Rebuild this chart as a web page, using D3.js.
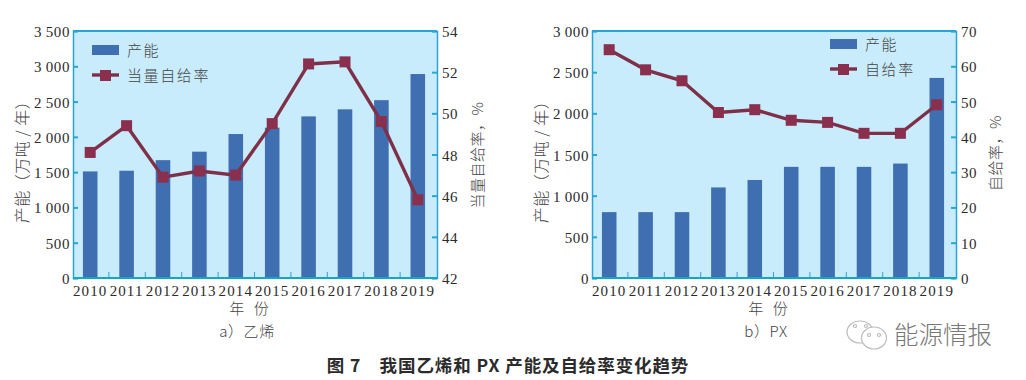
<!DOCTYPE html>
<html lang="en">
<head>
    <meta charset="UTF-8">
    <title>图 7 我国乙烯和 PX 产能及自给率变化趋势</title>
    <script src="https://d3js.org/d3.v7.min.js"></script>
    <style>
        body { margin: 0; background: #fff; }
        svg { display: block; }
        text { font-family: "Liberation Serif", "Noto Sans CJK SC", serif; fill: #2b2b2b; }
        .cjk { font-family: "Noto Sans CJK SC", sans-serif; font-weight: 300; fill: #444; }
    </style>
</head>
<body>
    <svg id="chart" width="1026" height="380"></svg>
    <script>
        const years = [2010, 2011, 2012, 2013, 2014, 2015, 2016, 2017, 2018, 2019];

        const ethyleneCapacity = [1510, 1520, 1670, 1790, 2040, 2130, 2290, 2390, 2520, 2890];
        const ethyleneRate = [48.1, 49.4, 46.9, 47.2, 47.0, 49.5, 52.4, 52.5, 49.6, 45.8];
        const ethyleneLeftTicks = [0, 500, 1000, 1500, 2000, 2500, 3000, 3500];
        const ethyleneRightTicks = [42, 44, 46, 48, 50, 52, 54];

        const pxCapacity = [800, 800, 800, 1100, 1190, 1350, 1350, 1350, 1390, 2430];
        const pxRate = [64.7, 59, 55.9, 46.9, 47.7, 44.7, 44.1, 41, 41, 49.1];
        const pxLeftTicks = [0, 500, 1000, 1500, 2000, 2500, 3000];
        const pxRightTicks = [0, 10, 20, 30, 40, 50, 60, 70];

        const axisColor = "#27a5d6";
        const plotColor = "#c9ecfd";
        const barColor = "#3f6fb0";
        const lineColor = "#7f3049";
        const markerColor = "#8b2f4e";

        const svg = d3.select("#chart");
        const plotTop = 31, plotBottom = 278;

        // thousands with a space, like the print: 3 500
        const spaced = d => d >= 1000 ? Math.floor(d / 1000) + "\u2009" + d3.format("03d")(d % 1000) : String(d);

        function drawPanel(p) {
            const g = svg.append("g");
            const x = d3.scaleBand().domain(years).range([p.left - 1, p.right - 1]).paddingInner(0.6).paddingOuter(0.3);
            const step = (p.right - p.left) / 10;
            const y = d3.scaleLinear().domain([0, p.leftTicks[p.leftTicks.length - 1]]).range([plotBottom, plotTop]);
            const y2 = d3.scaleLinear().domain([p.rightTicks[0], p.rightTicks[p.rightTicks.length - 1]]).range([plotBottom, plotTop]);

            g.append("rect")
                .attr("x", p.left).attr("y", plotTop)
                .attr("width", p.right - p.left).attr("height", plotBottom - plotTop)
                .attr("fill", plotColor);

            g.selectAll(".bar")
                .data(p.capacity)
                .enter()
                .append("rect")
                .attr("class", "bar")
                .attr("x", (d, i) => x(years[i]))
                .attr("y", d => y(d))
                .attr("width", x.bandwidth())
                .attr("height", d => plotBottom - y(d))
                .attr("fill", barColor);

            // axes
            const leftAxis = g.append("g")
                .attr("transform", `translate(${p.left},0)`)
                .call(d3.axisRight(y).tickValues(p.leftTicks).tickSize(5).tickFormat(""));
            const rightAxis = g.append("g")
                .attr("transform", `translate(${p.right},0)`)
                .call(d3.axisLeft(y2).tickValues(p.rightTicks).tickSize(5).tickFormat(""));
            [leftAxis, rightAxis].forEach(a => {
                a.selectAll("line").attr("stroke", axisColor).attr("stroke-width", 2);
                a.select(".domain").attr("stroke", axisColor).attr("stroke-width", 1.5);
            });

            g.append("line").attr("x1", p.left).attr("x2", p.right).attr("y1", plotTop).attr("y2", plotTop)
                .attr("stroke", axisColor).attr("stroke-width", 2);

            const xAxis = g.append("g")
                .attr("transform", `translate(0,${plotBottom})`)
                .call(d3.axisTop(d3.scaleLinear().domain([0, 10]).range([p.left - 1, p.left - 1 + step * 10]))
                    .tickValues(d3.range(1, 10)).tickSize(6).tickFormat(""));
            xAxis.selectAll("line").attr("stroke", "#3d9fc4").attr("stroke-width", 1);
            xAxis.select(".domain").remove();
            g.append("line").attr("x1", p.left).attr("x2", p.right).attr("y1", plotBottom).attr("y2", plotBottom)
                .attr("stroke", "#12a6c9").attr("stroke-width", 2);

            // tick labels
            g.selectAll(".ly").data(p.leftTicks).enter().append("text")
                .attr("x", p.left - 3).attr("y", d => y(d) + 6)
                .attr("text-anchor", "end").attr("font-size", 15).attr("letter-spacing", 0.6)
                .text(spaced);
            g.selectAll(".ry").data(p.rightTicks).enter().append("text")
                .attr("x", p.right + 5).attr("y", d => y2(d) + 6)
                .attr("font-size", 15).attr("letter-spacing", 0.6)
                .text(d => d);
            g.selectAll(".lx").data(years).enter().append("text")
                .attr("x", d => x(d) + x.bandwidth() / 2).attr("y", 296)
                .attr("text-anchor", "middle").attr("font-size", 15).attr("letter-spacing", 1.1)
                .text(d => d);

            // rate line
            const line = d3.line().x((d, i) => x(years[i]) + x.bandwidth() / 2).y(d => y2(d));
            g.append("path")
                .datum(p.rate)
                .attr("d", line)
                .attr("fill", "none")
                .attr("stroke", lineColor)
                .attr("stroke-width", 3.4);
            g.selectAll(".pt")
                .data(p.rate)
                .enter()
                .append("rect")
                .attr("x", (d, i) => x(years[i]) + x.bandwidth() / 2 - 5.5)
                .attr("y", d => y2(d) - 5.5)
                .attr("width", 11).attr("height", 11)
                .attr("fill", markerColor);

            // legend
            g.append("rect").attr("x", p.legendX).attr("y", p.legendY - 5).attr("width", 27).attr("height", 10).attr("fill", barColor);
            g.append("text").attr("class", "cjk").attr("x", p.legendX + 35).attr("y", p.legendY + 5.5).attr("font-size", 15).attr("letter-spacing", 1.6).text("产能");
            g.append("line").attr("x1", p.legendX).attr("x2", p.legendX + 27).attr("y1", p.legendY + 25).attr("y2", p.legendY + 25)
                .attr("stroke", lineColor).attr("stroke-width", 3.4);
            g.append("rect").attr("x", p.legendX + 8).attr("y", p.legendY + 20).attr("width", 11).attr("height", 11).attr("fill", markerColor);
            g.append("text").attr("class", "cjk").attr("x", p.legendX + 35).attr("y", p.legendY + 30.5).attr("font-size", 15).attr("letter-spacing", 1.6).text(p.rateName);

            // titles
            g.append("text").attr("class", "cjk")
                .attr("transform", `translate(${p.left - 45},158) rotate(-90)`)
                .attr("text-anchor", "middle").attr("font-size", 16).attr("letter-spacing", 0.5)
                .text("产能（万吨 / 年）");
            g.append("text").attr("class", "cjk")
                .attr("transform", `translate(${p.right + p.rightTitleOffset},${p.rightTitleY}) rotate(-90)`)
                .attr("text-anchor", "middle").attr("font-size", 15).attr("letter-spacing", 0.5)
                .text(p.rateName + "，%");
            g.append("text").attr("class", "cjk")
                .attr("x", (p.left + p.right) / 2 - 6).attr("y", 314)
                .attr("text-anchor", "middle").attr("font-size", 15)
                .attr("word-spacing", 6)
                .text("年 份");
            g.append("text").attr("class", "cjk")
                .attr("x", (p.left + p.right) / 2 - 8).attr("y", 337)
                .attr("text-anchor", "middle").attr("font-size", 15).attr("letter-spacing", 0.6)
                .text(p.caption);
        }

        drawPanel({
            left: 73, right: 437,
            capacity: ethyleneCapacity, rate: ethyleneRate,
            leftTicks: ethyleneLeftTicks, rightTicks: ethyleneRightTicks,
            rateName: "当量自给率",
            legendX: 92, legendY: 50,
            rightTitleOffset: 46, rightTitleY: 155,
            caption: "a）乙烯"
        });
        drawPanel({
            left: 592, right: 956,
            capacity: pxCapacity, rate: pxRate,
            leftTicks: pxLeftTicks, rightTicks: pxRightTicks,
            rateName: "自给率",
            legendX: 830, legendY: 44,
            rightTitleOffset: 45, rightTitleY: 153,
            caption: "b）PX"
        });

        // figure caption
        svg.append("text")
            .attr("x", 508).attr("y", 372)
            .attr("text-anchor", "middle")
            .attr("font-size", 17.5)
            .style("font-family", '"Noto Sans CJK SC", sans-serif')
            .style("font-weight", 700)
            .attr("letter-spacing", 0.9)
            .text("图 7　我国乙烯和 PX 产能及自给率变化趋势");

        // watermark
        const wm = svg.append("g").attr("fill", "#fff").attr("stroke", "#bbb").attr("stroke-width", 1.2);
        wm.append("ellipse").attr("cx", 860).attr("cy", 332).attr("rx", 13).attr("ry", 11);
        wm.append("ellipse").attr("cx", 874).attr("cy", 338).attr("rx", 12.5).attr("ry", 11);
        wm.selectAll(".eye")
            .data([[855, 326], [866, 326], [869, 335], [879, 335]])
            .enter().append("circle")
            .attr("cx", d => d[0]).attr("cy", d => d[1]).attr("r", 1.5);
        svg.append("text")
            .attr("x", 894).attr("y", 344)
            .attr("font-size", 24.5)
            .style("font-family", '"Noto Sans CJK SC", sans-serif')
            .style("font-weight", 300)
            .style("fill", "#777")
            .text("能源情报");
    </script>
</body>
</html>
